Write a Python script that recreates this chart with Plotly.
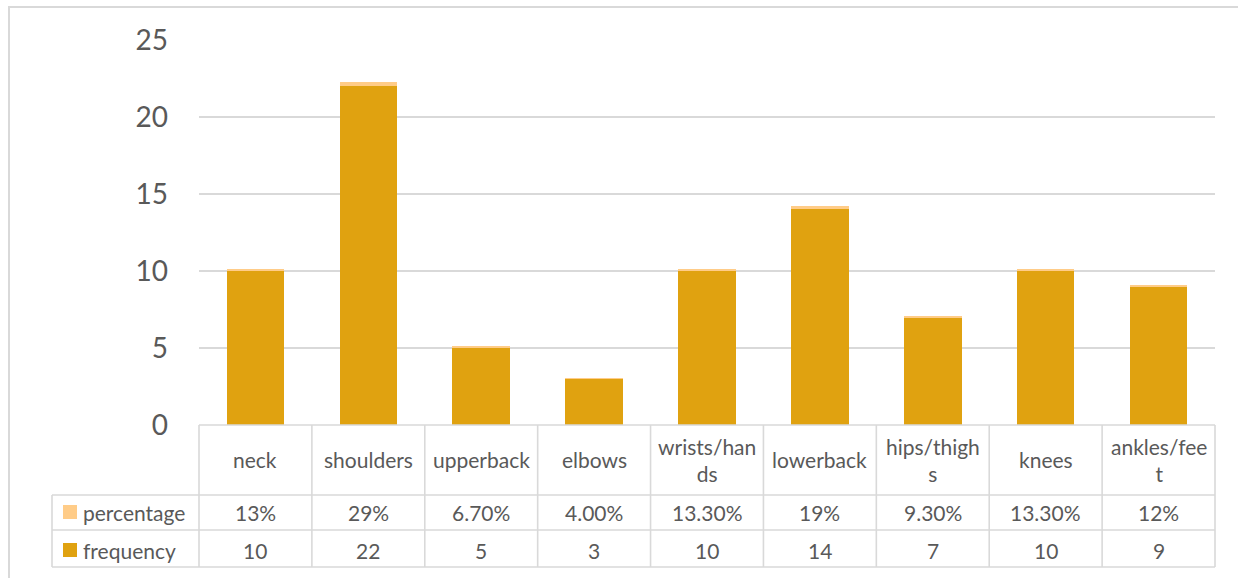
import plotly.graph_objects as go

# Body regions reported, with complaint frequency and the share of respondents
categories = ["neck", "shoulders", "upperback", "elbows", "wrists/hands",
              "lowerback", "hips/thighs", "knees", "ankles/feet"]
header_labels = ["neck", "shoulders", "upperback", "elbows", "wrists/han<br>ds",
                 "lowerback", "hips/thigh<br>s", "knees", "ankles/fee<br>t"]
frequency = [10, 22, 5, 3, 10, 14, 7, 10, 9]
percentage_labels = ["13%", "29%", "6.70%", "4.00%", "13.30%",
                     "19%", "9.30%", "13.30%", "12%"]
y_ticks = [0, 5, 10, 15, 20, 25]

# share stacked on the bar as a fraction
percentage = [float(s.rstrip("%")) / 100 for s in percentage_labels]

W, H = 1238, 578
L, R, T, B = 199, 23, 40, 153
PW, PH = W - L - R, H - T - B

FREQ_COLOR = "#E0A210"
PCT_COLOR = "#FFCC88"
GRID = "#D9D9D9"
TEXT = "#595959"
FONT = "Lato, 'Open Sans', sans-serif"


def px_x(px):
    return (px - L) / PW


def px_y(py):
    return (H - B - py) / PH


fig = go.Figure()
fig.add_bar(x=categories, y=frequency, name="frequency",
            marker=dict(color=FREQ_COLOR, line=dict(width=0)))
fig.add_bar(x=categories, y=percentage, name="percentage",
            marker=dict(color=PCT_COLOR, line=dict(width=0)))

shapes = []
line = dict(color=GRID, width=1.6)
n = len(categories)

# outer chart frame (top and left edges show)
shapes.append(dict(type="rect", xref="paper", yref="paper",
                   x0=px_x(9), x1=px_x(W + 10), y0=px_y(7), y1=px_y(H + 10),
                   line=dict(color=GRID, width=2), layer="below"))

# data table grid
y_top, y_r1, y_r2, y_bot = px_y(425), px_y(495), px_y(530), px_y(567)
x_first = px_x(52)
for i in range(n + 1):
    shapes.append(dict(type="line", xref="paper", yref="paper",
                       x0=i / n, x1=i / n, y0=y_top, y1=y_bot, line=line))
shapes.append(dict(type="line", xref="paper", yref="paper",
                   x0=x_first, x1=x_first, y0=y_r1, y1=y_bot, line=line))
shapes.append(dict(type="line", xref="paper", yref="paper",
                   x0=0, x1=1, y0=y_top, y1=y_top, line=line))
for yy in (y_r1, y_r2, y_bot):
    shapes.append(dict(type="line", xref="paper", yref="paper",
                       x0=x_first, x1=1, y0=yy, y1=yy, line=line))

# legend keys inside the table
for (c, yc) in ((PCT_COLOR, 512), (FREQ_COLOR, 550)):
    shapes.append(dict(type="rect", xref="paper", yref="paper",
                       x0=px_x(63), x1=px_x(77), y0=px_y(yc - 7), y1=px_y(yc + 7),
                       fillcolor=c, line=dict(width=0)))

annotations = []
tfont = dict(family=FONT, size=21, color=TEXT)
for cat, head, pl, fr in zip(categories, header_labels, percentage_labels, frequency):
    annotations.append(dict(x=cat, xref="x", y=px_y(460), yref="paper",
                            text=head, showarrow=False, font=tfont,
                            xanchor="center", yanchor="middle"))
    annotations.append(dict(x=cat, xref="x", y=px_y(512), yref="paper",
                            text=pl, showarrow=False, font=tfont,
                            xanchor="center", yanchor="middle"))
    annotations.append(dict(x=cat, xref="x", y=px_y(550), yref="paper",
                            text=str(fr), showarrow=False, font=tfont,
                            xanchor="center", yanchor="middle"))
annotations.append(dict(x=px_x(81), xref="paper", y=px_y(512), yref="paper",
                        text="percentage", showarrow=False, font=tfont,
                        xanchor="left", yanchor="middle"))
annotations.append(dict(x=px_x(81), xref="paper", y=px_y(550), yref="paper",
                        text="frequency", showarrow=False, font=tfont,
                        xanchor="left", yanchor="middle"))

fig.update_layout(
    width=W, height=H,
    margin=dict(l=L, r=R, t=T, b=B, pad=0),
    barmode="stack", bargap=0.49,
    showlegend=False,
    plot_bgcolor="white", paper_bgcolor="white",
    font=dict(family=FONT, color=TEXT),
    shapes=shapes, annotations=annotations,
    xaxis=dict(showticklabels=False, showgrid=False, zeroline=False,
               showline=False, ticks="", range=[-0.5, n - 0.5]),
    yaxis=dict(range=[0, 25], tickvals=y_ticks, showgrid=True, gridcolor=GRID,
               gridwidth=1.5, zeroline=False, showline=False, ticks="",
               tickfont=dict(family=FONT, size=28, color=TEXT),
               ticklabelstandoff=30),
)

fig.write_html("out.html")
